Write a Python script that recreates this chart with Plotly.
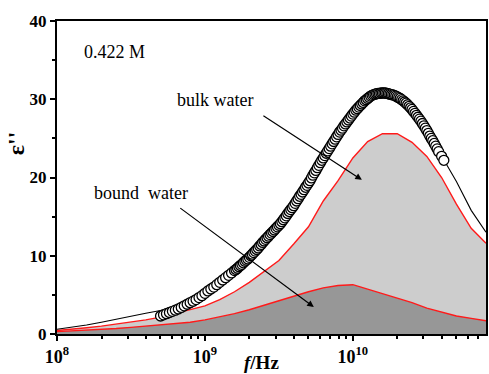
import plotly.graph_objects as go

# ---- data ----
fit_logf = [8.0, 8.1, 8.2, 8.3, 8.4, 8.5, 8.6, 8.7, 8.8, 8.9, 9.0, 9.1, 9.2, 9.3, 9.4,
            9.5, 9.6, 9.7, 9.8, 9.9, 10.0, 10.1, 10.2, 10.3, 10.4, 10.5, 10.6, 10.7,
            10.8, 10.9]
bulk = [0.45, 0.6, 0.8, 1.0, 1.25, 1.5, 1.8, 2.15, 2.6, 3.1, 3.6, 4.4, 5.4, 6.6, 8.0,
        9.4, 11.5, 13.7, 17.0, 19.6, 22.5, 24.6, 25.6, 25.6, 24.5, 22.7, 20.0, 16.6,
        13.5, 11.6]
bound = [0.3, 0.38, 0.45, 0.55, 0.7, 0.85, 1.0, 1.15, 1.3, 1.5, 1.8, 2.2, 2.6, 3.1, 3.7,
         4.2, 4.8, 5.4, 5.9, 6.2, 6.3, 5.75, 5.2, 4.6, 4.0, 3.3, 2.75, 2.3, 2.0, 1.7]
total = [0.6, 0.85, 1.15, 1.5, 1.9, 2.3, 2.65, 3.0, 3.6, 4.3, 5.1, 6.2, 7.6, 9.5, 11.5,
         13.5, 16.2, 19.0, 22.8, 25.7, 28.6, 30.3, 30.8, 30.2, 28.5, 26.0, 22.7, 19.5,
         15.8, 13.0]

data_logf = [
    8.70, 8.72, 8.74, 8.76, 8.78, 8.80, 8.82, 8.84, 8.86, 8.88, 8.90, 8.92, 8.94,
    8.96, 8.98, 9.00, 9.02, 9.04, 9.06, 9.08, 9.10, 9.12, 9.14, 9.16, 9.18,
    9.20, 9.21, 9.22, 9.23, 9.24, 9.25, 9.26, 9.27, 9.28, 9.29,
    9.30, 9.31, 9.32, 9.33, 9.34, 9.35, 9.36, 9.37, 9.38, 9.39,
    9.40, 9.41, 9.42, 9.43, 9.44, 9.45, 9.46, 9.47, 9.48, 9.49,
    9.50, 9.51, 9.52, 9.53, 9.54, 9.55, 9.56, 9.57, 9.58, 9.59,
    9.60, 9.61, 9.62, 9.63, 9.64, 9.65, 9.66, 9.67, 9.68, 9.69,
    9.70, 9.71, 9.72, 9.73, 9.74, 9.75, 9.76, 9.77, 9.78, 9.79,
    9.80, 9.81, 9.82, 9.83, 9.84, 9.85, 9.86, 9.87, 9.88, 9.89,
    9.90, 9.91, 9.92, 9.93, 9.94, 9.95, 9.96, 9.97, 9.98, 9.99,
    10.00, 10.01, 10.02, 10.03, 10.04, 10.05, 10.06, 10.07, 10.08, 10.09,
    10.10, 10.11, 10.12, 10.13, 10.14, 10.15, 10.16, 10.17, 10.18, 10.19,
    10.20, 10.21, 10.22, 10.23, 10.24, 10.25, 10.26, 10.27, 10.28, 10.29,
    10.30, 10.31, 10.32, 10.33, 10.34, 10.35, 10.36, 10.37, 10.38, 10.39,
    10.40, 10.41, 10.42, 10.43, 10.44, 10.45, 10.46, 10.47, 10.48, 10.49,
    10.50, 10.51, 10.52, 10.53, 10.54, 10.55, 10.56, 10.57, 10.58, 10.60, 10.615]
data_eps = [
    2.3, 2.45, 2.6, 2.75, 2.9, 3.05, 3.2, 3.4, 3.6, 3.8, 4.0, 4.2, 4.4,
    4.65, 4.9, 5.2, 5.5, 5.75, 6.0, 6.3, 6.6, 6.9, 7.2, 7.5, 7.8,
    8.1, 8.25, 8.4, 8.6, 8.75, 8.9, 9.1, 9.3, 9.45, 9.6,
    9.8, 10.0, 10.2, 10.4, 10.6, 10.8, 11.0, 11.25, 11.45, 11.7,
    11.9, 12.1, 12.3, 12.5, 12.7, 12.9, 13.1, 13.3, 13.5, 13.7,
    13.9, 14.1, 14.35, 14.6, 14.85, 15.1, 15.4, 15.65, 15.9, 16.15,
    16.4, 16.7, 17.0, 17.3, 17.6, 17.85, 18.15, 18.45, 18.75, 19.0,
    19.3, 19.6, 19.95, 20.3, 20.6, 20.9, 21.25, 21.55, 21.9, 22.2,
    22.5, 22.8, 23.1, 23.4, 23.7, 24.0, 24.3, 24.6, 24.9, 25.2,
    25.5, 25.8, 26.05, 26.3, 26.6, 26.85, 27.1, 27.35, 27.6, 27.85,
    28.1, 28.35, 28.6, 28.8, 29.0, 29.2, 29.4, 29.6, 29.8, 29.95,
    30.1, 30.25, 30.4, 30.5, 30.6, 30.65, 30.7, 30.75, 30.75, 30.8,
    30.8, 30.8, 30.8, 30.75, 30.7, 30.65, 30.6, 30.55, 30.5, 30.4,
    30.3, 30.2, 30.1, 29.95, 29.8, 29.65, 29.5, 29.3, 29.1, 28.9,
    28.7, 28.45, 28.2, 27.95, 27.7, 27.45, 27.2, 26.9, 26.6, 26.3,
    26.0, 25.65, 25.3, 25.0, 24.7, 24.35, 24.0, 23.65, 23.3, 22.7, 22.2]

x_ticks = [1e8, 1e9, 1e10]
x_ticktext = ["10<sup>8</sup>", "10<sup>9</sup>", "10<sup>10</sup>"]
x_minor = [m * 10 ** e for e in (8, 9, 10) for m in range(2, 10)]

fit_f = [10 ** v for v in fit_logf]
data_f = [10 ** v for v in data_logf]

SERIF = "Liberation Serif"

fig = go.Figure()
fig.add_trace(go.Scatter(x=fit_f, y=bulk, mode="lines", fill="tozeroy",
                         fillcolor="#cdcdcd", line=dict(color="#ff1a1a", width=1.4),
                         showlegend=False))
fig.add_trace(go.Scatter(x=fit_f, y=bound, mode="lines", fill="tozeroy",
                         fillcolor="#979797", line=dict(color="#ff1a1a", width=1.4),
                         showlegend=False))
fig.add_trace(go.Scatter(x=fit_f, y=total, mode="lines",
                         line=dict(color="black", width=1.1), showlegend=False))
fig.add_trace(go.Scatter(x=data_f, y=data_eps, mode="markers",
                         marker=dict(symbol="circle", size=10, color="white",
                                     line=dict(color="black", width=1.3)),
                         showlegend=False))

W, H = 489, 374
L_, R_, T_, B_ = 57, 1, 21, 40
pw, ph = W - L_ - R_, H - T_ - B_


def px(xp):
    return (xp - L_) / pw


def py(yp):
    return (H - B_ - yp) / ph


annos = [
    dict(text="0.422 M", x=px(82), y=py(52), xanchor="left", yanchor="middle",
         font=dict(size=18)),
    dict(text="bulk water", x=px(176), y=py(100), xanchor="left", yanchor="middle",
         font=dict(size=18)),
    dict(text="bound\u00a0 water", x=px(92), y=py(193), xanchor="left",
         yanchor="middle", font=dict(size=18)),
    dict(text="<i>f</i>/Hz", x=px(262), y=py(362), xanchor="center", yanchor="middle",
         font=dict(size=19, weight="bold")),
    dict(text="\u03b5''", x=px(16), y=py(143), xanchor="center", yanchor="middle",
         textangle=-90, font=dict(size=24, weight="bold")),
]
for a in annos:
    a.update(xref="paper", yref="paper", showarrow=False)
    a["font"] = dict(family=SERIF, color="black", **a["font"])

arrows = [
    dict(x=10.061, y=19.7, ax=-100, ay=-65),
    dict(x=9.736, y=3.45, ax=-135, ay=-100),
]
for a in arrows:
    annos.append(dict(x=a["x"], y=a["y"], ax=a["ax"], ay=a["ay"], xref="x", yref="y",
                      axref="pixel", ayref="pixel", showarrow=True, arrowhead=2,
                      arrowsize=1.1, arrowwidth=1.2, arrowcolor="black", text=""))

fig.update_layout(
    width=W, height=H,
    margin=dict(l=L_, r=R_, t=T_, b=B_),
    paper_bgcolor="white", plot_bgcolor="white",
    font=dict(family=SERIF, color="black"),
    annotations=annos,
)
fig.update_xaxes(type="log", range=[8, 10.9], tickvals=x_ticks, ticktext=x_ticktext,
                 ticks="outside", ticklen=5, tickwidth=2, tickcolor="black",
                 minor=dict(tickvals=x_minor, ticks="outside", ticklen=3, tickwidth=1.5,
                            tickcolor="black"),
                 showgrid=False, zeroline=False, showline=True, linewidth=2,
                 linecolor="black", mirror=True,
                 tickfont=dict(family=SERIF, size=18, weight="bold", color="black"))
fig.update_yaxes(range=[0, 40], tickvals=[0, 10, 20, 30, 40], ticks="outside",
                 ticklen=5, tickwidth=2, tickcolor="black",
                 minor=dict(tickvals=[5, 15, 25, 35], ticks="outside", ticklen=3,
                            tickwidth=1.5, tickcolor="black"),
                 showgrid=False, zeroline=False, showline=True, linewidth=2,
                 linecolor="black", mirror=True,
                 tickfont=dict(family=SERIF, size=17, weight="bold", color="black"))

fig.write_html("out.html")
